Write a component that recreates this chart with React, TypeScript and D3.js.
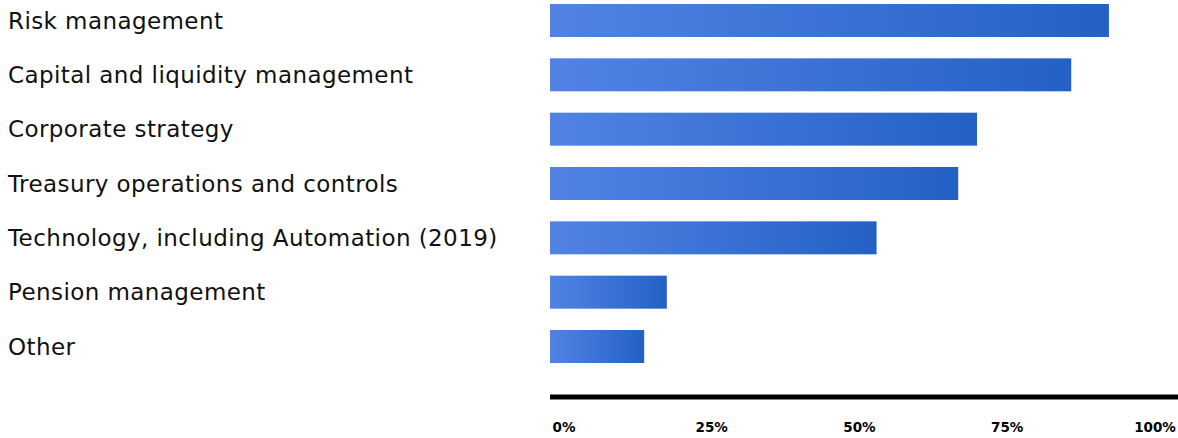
import React from "react";
import * as d3 from "d3";

const categories = [
  "Risk management",
  "Capital and liquidity management",
  "Corporate strategy",
  "Treasury operations and controls",
  "Technology, including Automation (2019)",
  "Pension management",
  "Other",
];
const values = [89, 83, 68, 65, 52, 18.6, 15];
const tickValues = [0, 25, 50, 75, 100];
const tickLabels = ["0%", "25%", "50%", "75%", "100%"];

const W = 1178;
const H = 438;

export default function App() {
  const x = d3.scaleLinear().domain([0, 100]).range([550, 1178]);
  const xLabel = d3.scaleLinear().domain([0, 100]).range([564, 1155]);
  const y = d3
    .scaleBand<string>()
    .domain(categories)
    .range([4, 363])
    .paddingInner(0.3926)
    .paddingOuter(0);

  return (
    <svg
      width={W}
      height={H}
      style={{ position: "absolute", left: 0, top: 0, display: "block" }}
    >
      <defs>
        <linearGradient id="barGrad" x1="0" x2="1" y1="0" y2="0">
          <stop offset="0%" stopColor="#5283e4" />
          <stop offset="100%" stopColor="#2461c5" />
        </linearGradient>
      </defs>
      {categories.map((c, i) => (
        <g key={c}>
          <text
            x={8}
            y={(y(c) as number) + y.bandwidth() / 2}
            dy="0.36em"
            fontFamily="'DejaVu Sans', sans-serif"
            fontSize={23}
            letterSpacing={0.42}
            fill="#111"
          >
            {c}
          </text>
          <rect
            x={x(0)}
            y={y(c)}
            width={x(values[i]) - x(0)}
            height={y.bandwidth()}
            fill="url(#barGrad)"
          />
        </g>
      ))}
      <line x1={x(0)} x2={x(100)} y1={397} y2={397} stroke="#000" strokeWidth={5} />
      {tickValues.map((v, i) => (
        <text
          key={v}
          x={xLabel(v)}
          y={432}
          textAnchor="middle"
          fontFamily="'DejaVu Sans', sans-serif"
          fontWeight={700}
          fontSize={13.5}
          fill="#000"
        >
          {tickLabels[i]}
        </text>
      ))}
    </svg>
  );
}
